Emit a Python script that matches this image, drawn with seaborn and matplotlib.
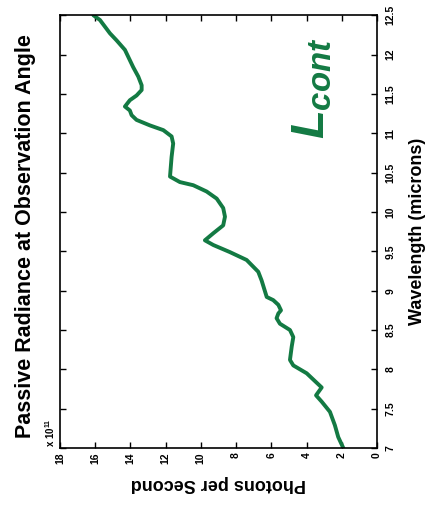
import numpy as np
import pandas as pd
import seaborn as sns
import matplotlib.pyplot as plt

# wavelength (microns) and photons per second (x 1e11)
wavelength = [7.00, 7.14, 7.29, 7.46, 7.59, 7.67, 7.77, 7.95, 8.05, 8.12, 8.29, 8.41,
              8.50, 8.58, 8.65, 8.71, 8.75, 8.82, 8.88, 8.92, 9.13, 9.24, 9.39, 9.49,
              9.58, 9.64, 9.73, 9.83, 9.94, 10.05, 10.17, 10.26, 10.34, 10.38, 10.45,
              10.70, 10.87, 10.96, 11.04, 11.10, 11.17, 11.23, 11.29, 11.34, 11.42,
              11.48, 11.55, 11.61, 11.72, 11.84, 12.06, 12.18, 12.27, 12.44, 12.50]
photons = [1.91, 2.20, 2.39, 2.67, 3.14, 3.46, 3.14, 3.99, 4.75, 4.94, 4.84, 4.75,
           4.94, 5.51, 5.70, 5.60, 5.45, 5.60, 5.89, 6.26, 6.55, 6.74, 7.40, 8.35,
           9.29, 9.77, 9.29, 8.73, 8.63, 8.73, 9.10, 9.67, 10.43, 11.19, 11.75,
           11.66, 11.57, 11.66, 12.13, 12.89, 13.65, 13.93, 14.03, 14.31, 14.03,
           13.65, 13.36, 13.36, 13.55, 13.84, 14.31, 14.78, 15.16, 15.73, 16.10]

wl_ticks = [7, 7.5, 8, 8.5, 9, 9.5, 10, 10.5, 11, 11.5, 12, 12.5]
ph_ticks = [0, 2, 4, 6, 8, 10, 12, 14, 16, 18]

df = pd.DataFrame({'Wavelength': wavelength, 'Photons': photons})

sns.set_style('white')
plt.rcParams['font.family'] = ['Liberation Sans', 'DejaVu Sans']
plt.rcParams['font.weight'] = 'bold'
plt.rcParams['text.color'] = 'black'
plt.rcParams['axes.labelcolor'] = 'black'
plt.rcParams['xtick.color'] = 'black'
plt.rcParams['ytick.color'] = 'black'
plt.rcParams['mathtext.fontset'] = 'custom'
plt.rcParams['mathtext.it'] = 'Liberation Sans:italic:bold'
plt.rcParams['mathtext.rm'] = 'Liberation Sans:bold'

green = '#137a43'

fig = plt.figure(figsize=(4.25, 5.08), dpi=100)
ax = fig.add_axes([0.141, 0.118, 0.746, 0.852])

# the whole chart is turned a quarter turn: photons run right-to-left, wavelength upward
sns.lineplot(data=df, x='Photons', y='Wavelength', sort=False, estimator=None,
             color=green, linewidth=2.8, ax=ax)

ax.set_xlim(18, 0)
ax.set_ylim(7, 12.5)
ax.set_xticks(ph_ticks)
ax.set_xticklabels([str(t) for t in ph_ticks], rotation=90, fontsize=7.5, fontweight='bold')
ax.set_yticks(wl_ticks)
ax.set_yticklabels([('%g' % t) for t in wl_ticks], rotation=90, va='center',
                   fontsize=7.5, fontweight='bold')

ax.yaxis.tick_right()
ax.yaxis.set_label_position('right')
ax.tick_params(direction='in', length=4, width=1, top=True, bottom=True,
               left=True, right=True, labelleft=False, labelright=True)
ax.tick_params(axis='x', pad=3)
ax.tick_params(axis='y', pad=6)

for s in ax.spines.values():
    s.set_linewidth(1.2)
    s.set_color('black')

ax.set_xlabel('Photons per Second', rotation=180, fontsize=13, fontweight='bold', labelpad=8)
ax.set_ylabel('Wavelength (microns)', rotation=90, fontsize=13, fontweight='bold', labelpad=10)

fig.text(0.059, 0.535, 'Passive Radiance at Observation Angle', rotation=90,
         ha='center', va='center', fontsize=15.5, fontweight='bold')
fig.text(0.134, 0.12, r'x 10$^{11}$', rotation=90, ha='right', va='bottom', fontsize=7)

ax.text(2.4, 10.93, r'$L_{cont}$', rotation=90, ha='right', va='bottom',
        color=green, fontsize=34)

fig.savefig('out.png', dpi=100)
